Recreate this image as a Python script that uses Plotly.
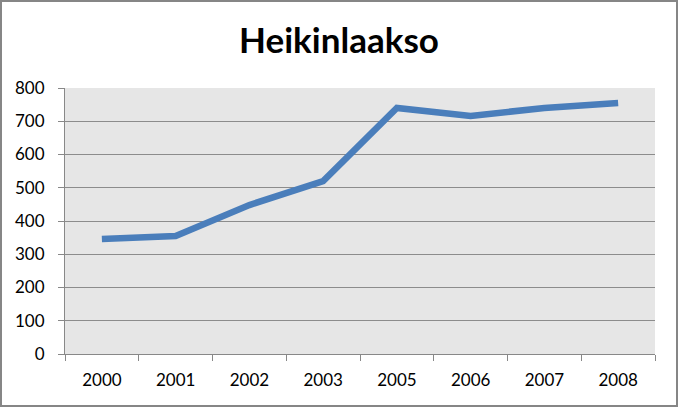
import plotly.graph_objects as go

years = ["2000", "2001", "2002", "2003", "2005", "2006", "2007", "2008"]
values = [346, 355, 448, 520, 740, 716, 740, 755]
y_ticks = [0, 100, 200, 300, 400, 500, 600, 700, 800]

W, H = 678, 407
L, R, T, B = 65, 23, 88, 53
pw, ph = W - L - R, H - T - B

fig = go.Figure(go.Scatter(
    x=years, y=values, mode="lines",
    line=dict(color="#4A7EBB", width=6.5),
    hoverinfo="x+y",
))

fig.update_layout(
    width=W, height=H,
    margin=dict(l=L, r=R, t=T, b=B),
    paper_bgcolor="white",
    plot_bgcolor="#E6E6E6",
    font=dict(family="Lato, Liberation Sans, sans-serif", color="black", size=17),
    title=dict(text="<b>Heikinlaakso</b>", x=0.5, xanchor="center",
               y=1 - 41 / H, yanchor="middle",
               font=dict(size=35, family="Lato, Liberation Sans, sans-serif")),
    showlegend=False,
    xaxis=dict(type="category", tickson="boundaries", ticks="outside", ticklen=6,
               range=[-0.5, len(years) - 0.5],
               tickcolor="#888888", showline=True, linecolor="#888888", linewidth=1,
               showgrid=False, tickfont=dict(size=17), ticklabelstandoff=11),
    yaxis=dict(range=[0, 800], tickvals=y_ticks, ticks="outside", ticklen=6,
               tickcolor="#888888", showline=True, linecolor="#888888", linewidth=1,
               showgrid=True, gridcolor="#8C8C8C", gridwidth=1, zeroline=False,
               tickfont=dict(size=17), ticklabelstandoff=10),
    shapes=[dict(type="rect", xref="paper", yref="paper",
                 x0=-(L - 1) / pw, x1=1 + (R - 1) / pw,
                 y0=-(B - 1) / ph, y1=1 + (T - 1) / ph,
                 line=dict(color="#868686", width=2), fillcolor="rgba(0,0,0,0)",
                 layer="below")],
)

fig.write_html("out.html", config={"displayModeBar": False},
               post_script="document.body.style.margin='0';document.body.style.overflow='hidden';")
